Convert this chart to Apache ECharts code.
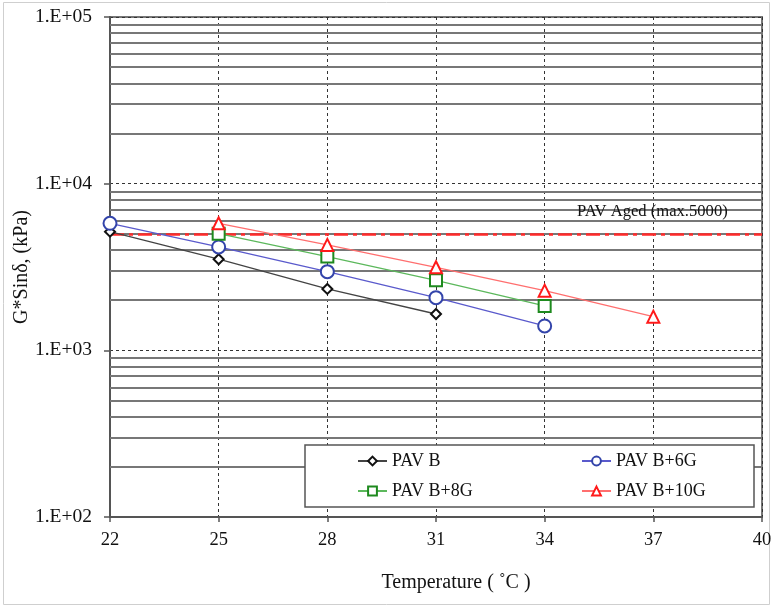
<!DOCTYPE html>
<html>
<head>
<meta charset="utf-8">
<script src="https://cdn.jsdelivr.net/npm/echarts@6/dist/echarts.min.js"></script>
<style>
html,body{margin:0;padding:0;background:#fff;}
#chart{width:772px;height:607px;}
</style>
</head>
<body>
<div id="chart"></div>
<script>
// ---- data ----
const xTicks = [22, 25, 28, 31, 34, 37, 40];
const seriesNames = ['PAV B', 'PAV B+6G', 'PAV B+8G', 'PAV B+10G'];
const xPavB = [22, 25, 28, 31];
const yPavB = [5150, 3520, 2335, 1652];
const xPavB6G = [22, 25, 28, 31, 34];
const yPavB6G = [5785, 4170, 2965, 2070, 1400];
const xPavB8G = [25, 28, 31, 34];
const yPavB8G = [5010, 3650, 2632, 1847];
const xPavB10G = [25, 28, 31, 34, 37];
const yPavB10G = [5780, 4290, 3150, 2280, 1593];
const limitValue = 5000;
const limitLabel = 'PAV Aged (max.5000)';
const minorGrid = [];
[100, 1000, 10000].forEach(d => { for (let k = 2; k <= 9; k++) minorGrid.push(k * d); });

const FONT = 'Liberation Serif';
const pairs = (xs, ys) => xs.map((x, i) => [x, ys[i]]);

const chart = echarts.init(document.getElementById('chart'), null, {renderer: 'canvas'});

function mkSeries(name, data, symbol, size, border, line) {
  return {
    name, type: 'line', data: pairs(...data), symbol, symbolSize: size,
    z: 5,
    itemStyle: {color: '#fff', borderColor: border, borderWidth: 2},
    lineStyle: {color: line, width: 1.3},
    emphasis: {disabled: true}
  };
}

function mkLegend(name, left, top) {
  return {
    data: [name], left, top, padding: 0, itemWidth: 29, itemHeight: 11, itemGap: 4,
    z: 200,
    textStyle: {fontFamily: FONT, fontSize: 18, color: '#111'},
    selectedMode: false
  };
}

chart.setOption({
  animation: false,
  backgroundColor: '#fff',
  grid: {left: 110, right: 10, top: 17, bottom: 90, containLabel: false, outerBoundsMode: 'none',
    show: true, borderColor: '#777', borderWidth: 2, backgroundColor: 'transparent'},
  xAxis: {
    type: 'value', min: 22, max: 40, interval: 3,
    name: 'Temperature ( ˚C )', nameLocation: 'middle', nameGap: 56, nameMoveOverlap: false,
    nameTextStyle: {fontFamily: FONT, fontSize: 20, color: '#111', padding: [0, 0, 0, 40]},
    axisLine: {show: true, lineStyle: {color: '#555', width: 2}},
    axisTick: {show: true, inside: false, length: 5, lineStyle: {color: '#555', width: 1.5}},
    axisLabel: {fontFamily: FONT, fontSize: 18.5, color: '#111', margin: 14,
      formatter: v => xTicks.includes(v) ? String(v) : ''},
    splitLine: {show: true, lineStyle: {color: '#333', width: 1, type: [3, 3]}}
  },
  yAxis: {
    type: 'log', logBase: 10, min: 100, max: 100000,
    name: 'G*Sinδ, (kPa)', nameLocation: 'middle', nameGap: 78, nameMoveOverlap: false,
    nameTextStyle: {fontFamily: FONT, fontSize: 20, color: '#111'},
    axisLine: {show: true, lineStyle: {color: '#555', width: 2}},
    axisTick: {show: true, inside: false, length: 6, lineStyle: {color: '#555', width: 1.5}},
    axisLabel: {fontFamily: FONT, fontSize: 19.5, color: '#111', margin: 18,
      formatter: v => '1.E+0' + Math.round(Math.log10(v))},
    splitLine: {show: true, lineStyle: {color: '#333', width: 1, type: [3, 3]}}
  },
  legend: [
    mkLegend('PAV B', 357, 452),
    mkLegend('PAV B+6G', 581, 452),
    mkLegend('PAV B+8G', 357, 482),
    mkLegend('PAV B+10G', 581, 482)
  ],
  graphic: [
    {type: 'rect', shape: {x: 3.5, y: 2.5, width: 766, height: 602}, style: {fill: 'none', stroke: '#cfcfcf', lineWidth: 1}, z: 0, silent: true},
    {type: 'rect', shape: {x: 305, y: 445, width: 449, height: 62}, style: {fill: '#fff', stroke: '#555', lineWidth: 1.5}, z: 100, silent: true},
    {type: 'text', left: 577, top: 203, z: 100, silent: true,
      style: {text: limitLabel, font: '16.6px "Liberation Serif"', fill: '#111'}}
  ],
  series: [
    {
      name: 'minor', type: 'line', data: [], z: 1, silent: true,
      markLine: {
        silent: true, symbol: 'none', animation: false,
        label: {show: false},
        lineStyle: {color: '#777', width: 2, type: 'solid'},
        emphasis: {disabled: true},
        data: minorGrid.map(v => ({yAxis: v}))
      }
    },
    {
      name: 'limit', type: 'line', data: [], z: 3, silent: true,
      markLine: {
        silent: true, symbol: 'none', animation: false,
        label: {show: false},
        lineStyle: {color: '#ff2a2a', width: 2.5, type: [14, 5, 4, 5]},
        emphasis: {disabled: true},
        data: [{yAxis: limitValue}]
      }
    },
    mkSeries('PAV B', [xPavB, yPavB], 'diamond', 10, '#111', '#444'),
    mkSeries('PAV B+6G', [xPavB6G, yPavB6G], 'circle', 13, '#3344aa', '#5a5acc'),
    mkSeries('PAV B+8G', [xPavB8G, yPavB8G], 'rect', 12, '#1e8a1e', '#5cb85c'),
    mkSeries('PAV B+10G', [xPavB10G, yPavB10G], 'triangle', 12, '#ff1a1a', '#ff6f6f')
  ]
});
</script>
</body>
</html>
